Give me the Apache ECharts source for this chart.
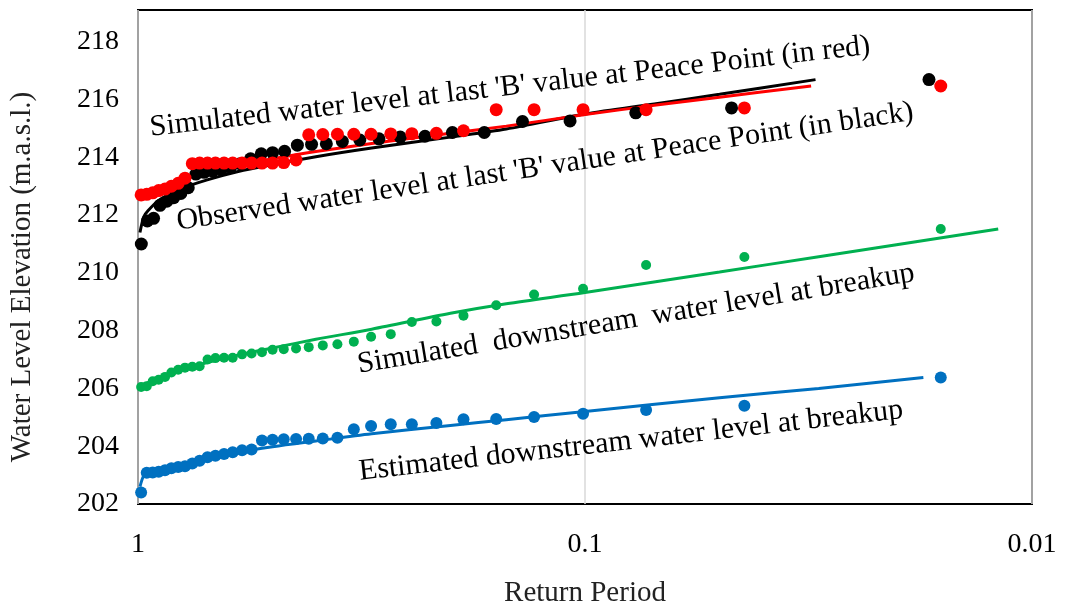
<!DOCTYPE html>
<html>
<head>
<meta charset="utf-8">
<title>Water level elevation vs return period</title>
<script src="https://cdn.jsdelivr.net/npm/echarts@6/dist/echarts.min.js"></script>
<style>
  html, body { margin: 0; padding: 0; background: #fff; }
  #chart { width: 1065px; height: 613px; }
</style>
</head>
<body>
<div id="chart"></div>
<script>
  // exceedance probability of each ranked year (35 and 33 year records)
  var probN35 = [0.984, 0.956, 0.927, 0.899, 0.870, 0.842, 0.813, 0.785, 0.756, 0.728, 0.699, 0.671, 0.642, 0.614, 0.585, 0.557, 0.528, 0.500,
    0.472, 0.443, 0.415, 0.386, 0.358, 0.329, 0.301, 0.272, 0.244, 0.215, 0.187, 0.158, 0.130, 0.101, 0.073, 0.044, 0.016]
  var probN33 = [0.983, 0.953, 0.923, 0.893, 0.862, 0.832, 0.802, 0.772, 0.742, 0.711, 0.681, 0.651, 0.621, 0.591, 0.560, 0.530, 0.500,
    0.470, 0.440, 0.409, 0.379, 0.349, 0.319, 0.289, 0.259, 0.228, 0.198, 0.168, 0.138, 0.108, 0.077, 0.047, 0.017]

  // observed levels at Peace Point (black, 33 values)
  var observedPP = [211.0, 211.80, 211.89, 212.34, 212.48, 212.60, 212.75, 212.95, 213.42, 213.48, 213.52, 213.58, 213.65, 213.78, 213.95, 214.12, 214.16,
    214.21, 214.42, 214.45, 214.47, 214.55, 214.60, 214.64, 214.70, 214.73, 214.86, 214.86, 215.24, 215.26, 215.54, 215.71, 216.69]
  // simulated levels at Peace Point (red)
  var simulatedPP = [212.70, 212.72, 212.77, 212.85, 212.90, 213.00, 213.10, 213.28, 213.78, 213.80, 213.80, 213.80, 213.80, 213.80, 213.80, 213.80, 213.80, 213.80,
    213.82, 213.91, 214.78, 214.79, 214.80, 214.80, 214.80, 214.81, 214.82, 214.83, 214.92, 215.65, 215.65, 215.65, 215.65, 215.71, 216.47]
  // simulated downstream level at breakup (green)
  var simulatedDS = [206.05, 206.08, 206.25, 206.30, 206.40, 206.55, 206.65, 206.72, 206.75, 206.77, 207.00, 207.05, 207.06, 207.06, 207.18, 207.21, 207.25, 207.34,
    207.36, 207.38, 207.43, 207.49, 207.53, 207.62, 207.79, 207.88, 208.30, 208.32, 208.52, 208.88, 209.25, 209.45, 210.27, 210.55, 211.52]
  // estimated downstream level at breakup (blue)
  var estimatedDS = [202.40, 203.08, 203.09, 203.12, 203.17, 203.24, 203.28, 203.31, 203.40, 203.50, 203.62, 203.67, 203.73, 203.79, 203.86, 203.89, 204.20, 204.22,
    204.24, 204.25, 204.26, 204.27, 204.29, 204.59, 204.70, 204.76, 204.76, 204.80, 204.93, 204.94, 205.01, 205.12, 205.25, 205.40, 206.38]

  // fitted frequency curves
  var observedFitP = [0.99, 0.97, 0.95, 0.9, 0.85, 0.8, 0.7, 0.6, 0.5, 0.4, 0.3, 0.2, 0.15, 0.1, 0.07, 0.05, 0.0305]
  var observedFitY = [211.4, 211.95, 212.15, 212.5, 212.72, 212.92, 213.22, 213.5, 213.75, 214.02, 214.32, 214.7, 214.98, 215.5, 215.85, 216.18, 216.69]
  var simulatedFitP = [0.99, 0.97, 0.95, 0.9, 0.85, 0.8, 0.7, 0.6, 0.5, 0.4, 0.3, 0.2, 0.15, 0.1, 0.07, 0.05, 0.0312]
  var simulatedFitY = [212.6, 212.7, 212.8, 212.95, 213.1, 213.25, 213.5, 213.72, 213.95, 214.2, 214.48, 214.83, 215.08, 215.48, 215.8, 216.08, 216.47]
  var simDSFitP = [0.99, 0.97, 0.95, 0.9, 0.85, 0.8, 0.7, 0.6, 0.5, 0.4, 0.3, 0.2, 0.15, 0.1, 0.05, 0.03, 0.0119]
  var simDSFitY = [206.0, 206.1, 206.2, 206.35, 206.5, 206.65, 206.9, 207.15, 207.4, 207.7, 208.05, 208.6, 208.93, 209.32, 210.03, 210.56, 211.52]
  var estDSFitP = [0.99, 0.97, 0.95, 0.9, 0.85, 0.8, 0.7, 0.6, 0.5, 0.4, 0.3, 0.2, 0.15, 0.1, 0.05, 0.03, 0.0175]
  var estDSFitY = [202.6, 203.0, 203.1, 203.15, 203.23, 203.32, 203.55, 203.78, 203.98, 204.18, 204.43, 204.72, 204.92, 205.2, 205.68, 206.0, 206.38]

  var xTickLabels = ['1', '0.1', '0.01']
  var yTicks = [202, 204, 206, 208, 210, 212, 214, 216, 218]

  var serif = "'Liberation Serif', 'Times New Roman', serif"

  function pairs(xs, ys) {
    return xs.map(function (x, i) { return [x, ys[i]] })
  }

  function fitLine(name, color, xs, ys) {
    return {
      name: name,
      type: 'line',
      data: pairs(xs, ys),
      smooth: 0.3,
      showSymbol: false,
      lineStyle: { color: color, width: 3 },
      z: 2
    }
  }

  function dots(name, color, xs, ys, size) {
    return {
      name: name,
      type: 'scatter',
      data: pairs(xs, ys),
      symbolSize: size,
      itemStyle: { color: color, opacity: 1 },
      z: 3
    }
  }

  function note(text, x, y, deg) {
    return {
      type: 'text',
      x: x,
      y: y,
      rotation: deg * Math.PI / 180,
      z: 10,
      style: {
        text: text,
        fontSize: 30,
        fontFamily: serif,
        fill: '#000',
        align: 'center',
        verticalAlign: 'middle'
      }
    }
  }

  var chart = echarts.init(document.getElementById('chart'))
  chart.setOption({
    animation: false,
    grid: {
      left: 137,
      right: 33,
      top: 10,
      bottom: 96,
      show: true,
      borderColor: '#000',
      borderWidth: 2
    },
    xAxis: {
      type: 'log',
      logBase: 10,
      min: 0.01,
      max: 1,
      inverse: true,
      name: 'Return Period',
      nameLocation: 'middle',
      nameGap: 75,
      nameTextStyle: { fontFamily: serif, fontSize: 29, color: '#222' },
      axisLine: { show: false },
      axisTick: { show: false },
      splitLine: { show: true, lineStyle: { color: '#d9d9d9', width: 1.5 } },
      axisLabel: {
        fontFamily: serif,
        fontSize: 28,
        color: '#000',
        margin: 27,
        formatter: function (v) {
          var lab = xTickLabels.find(function (l) {
            return Math.abs(Math.log10(+l) - Math.log10(v)) < 0.01
          })
          return lab || ''
        }
      }
    },
    yAxis: {
      type: 'value',
      min: yTicks[0],
      max: 219.1,
      interval: 2,
      name: 'Water Level Elevation (m.a.s.l.)',
      nameLocation: 'middle',
      nameGap: 101,
      nameTextStyle: { fontFamily: serif, fontSize: 29, color: '#222', padding: [0, 40, 0, 0] },
      axisLine: { show: false },
      axisTick: { show: false },
      splitLine: { show: false },
      axisLabel: {
        fontFamily: serif,
        fontSize: 28,
        color: '#000',
        margin: 19,
        showMaxLabel: false,
        formatter: function (v) {
          return yTicks.indexOf(v) >= 0 ? String(v) : ''
        }
      }
    },
    graphic: [
      note("Simulated water level at last 'B' value at Peace Point (in red)", 510, 87, 6.5),
      note("Observed water level at last 'B' value at Peace Point (in black)", 545, 167, 8.5),
      note('Simulated  downstream  water level at breakup', 636, 319, 9.4),
      note('Estimated downstream water level at breakup', 631, 441, 6.5)
    ],
    series: [
      fitLine('Observed fit', '#000000', observedFitP, observedFitY),
      fitLine('Simulated fit', '#ff0000', simulatedFitP, simulatedFitY),
      fitLine('Simulated downstream fit', '#00b050', simDSFitP, simDSFitY),
      fitLine('Estimated downstream fit', '#0070c0', estDSFitP, estDSFitY),
      dots('Observed at Peace Point', '#000000', probN33, observedPP, 13),
      dots('Simulated at Peace Point', '#ff0000', probN35, simulatedPP, 13),
      dots('Simulated downstream', '#00b050', probN35, simulatedDS, 10),
      dots('Estimated downstream', '#0070c0', probN35, estimatedDS, 12)
    ]
  })
</script>
</body>
</html>
